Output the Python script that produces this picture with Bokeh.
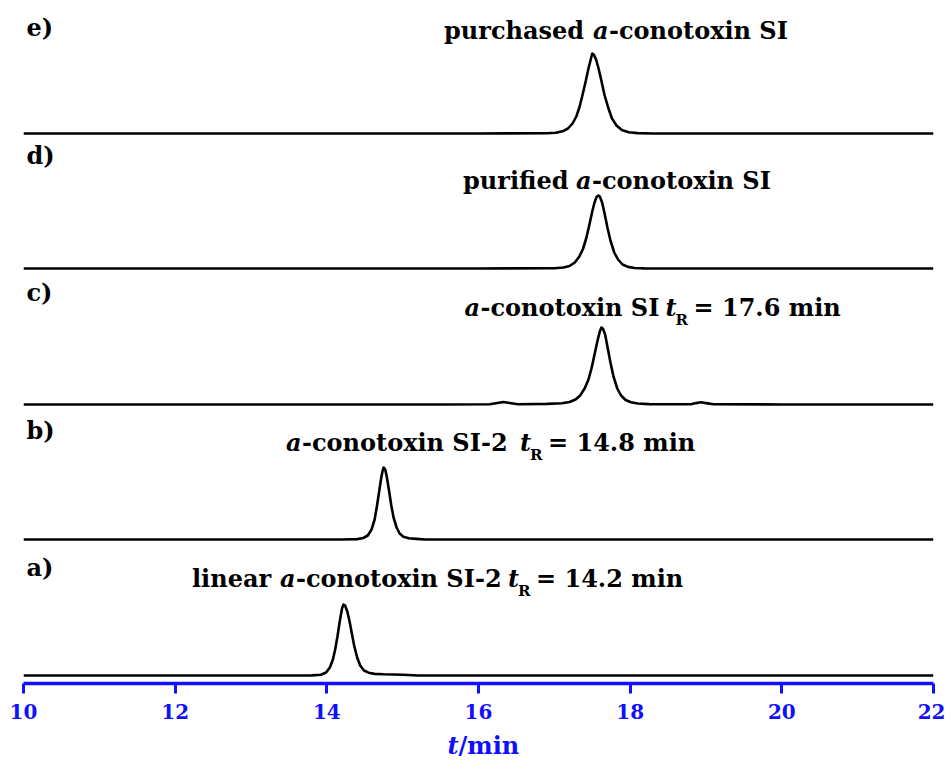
from bokeh.plotting import figure
from bokeh.models import Range1d, Label, FixedTicker
from bokeh.layouts import column
from bokeh.embed import file_html
from bokeh.resources import INLINE

# ---------------- data (retention time in min, detector response in arbitrary units) -------------
t_a = [10.00, 13.00, 13.80, 13.92, 13.99, 14.04, 14.08, 14.11, 14.14, 14.17, 14.20, 14.22, 14.24, 14.27,
       14.30, 14.33, 14.36, 14.40, 14.44, 14.49, 14.55, 14.63, 14.75, 15.00, 15.20, 22.00]
i_a = [0, 0, 0.1, 0.8, 3, 8, 16, 26, 39, 54, 67, 71, 70, 64, 54, 42, 30, 18, 10, 5, 2.8, 1.6, 1.2, 0.8, 0, 0]

t_b = [10.00, 13.00, 14.20, 14.40, 14.48, 14.54, 14.59, 14.63, 14.66, 14.69, 14.72, 14.74, 14.75, 14.77,
       14.79, 14.82, 14.85, 14.88, 14.92, 14.96, 15.01, 15.08, 15.18, 15.30, 17.00, 22.00]
i_b = [0, 0, 0, 0.4, 1.5, 4, 10, 20, 33, 48, 63, 70, 72, 70, 63, 49, 34, 22, 12, 6, 2.8, 1.2, 0.6, 0, 0, 0]

t_c = [10.00, 13.00, 15.50, 16.15, 16.25, 16.33, 16.41, 16.52, 16.90, 17.10, 17.20, 17.28, 17.34, 17.40,
       17.45, 17.49, 17.53, 17.57, 17.60, 17.62, 17.64, 17.67, 17.70, 17.74, 17.78, 17.83, 17.88, 17.94,
       18.01, 18.10, 18.25, 18.50, 18.80, 18.87, 18.93, 19.00, 19.10, 20.00, 22.00]
i_c = [0, 0, 0, 0.2, 1.5, 2.5, 1.5, 0.3, 0.6, 1.2, 2.5, 5, 9, 16, 25, 36, 50, 64, 73, 77, 76, 70, 58, 42,
       28, 16, 9, 4.5, 2.2, 1.0, 0.4, 0.2, 0.3, 1.4, 2.2, 1.4, 0.3, 0, 0]

t_d = [10.00, 13.00, 16.00, 17.00, 17.12, 17.20, 17.27, 17.33, 17.38, 17.42, 17.46, 17.50, 17.53, 17.56,
       17.58, 17.60, 17.63, 17.66, 17.70, 17.74, 17.79, 17.84, 17.90, 17.97, 18.06, 18.18, 18.40, 20.00, 22.00]
i_d = [0, 0, 0, 0.3, 1, 2.5, 6, 12, 20, 30, 43, 57, 66, 72, 73, 72, 66, 56, 41, 28, 16, 9, 4, 1.6, 0.5,
       0.1, 0, 0, 0]

t_e = [10.00, 13.00, 16.00, 16.90, 17.02, 17.11, 17.18, 17.24, 17.29, 17.33, 17.37, 17.41, 17.45, 17.48,
       17.50, 17.52, 17.55, 17.58, 17.62, 17.66, 17.71, 17.76, 17.82, 17.89, 17.98, 18.10, 18.30, 20.00, 22.00]
i_e = [0, 0, 0, 0.2, 0.8, 2.2, 5, 10, 17, 26, 38, 51, 65, 74, 80, 79, 74, 66, 53, 39, 26, 15, 8, 3.5,
       1.3, 0.4, 0, 0, 0]

trace_names = ["a)", "b)", "c)", "d)", "e)"]
x_ticks = [10, 12, 14, 16, 18, 20, 22]

# ---------------- layout constants ----------------
FONT = "DejaVu Serif"
BLUE = "#1010ff"
W = 945
LEFT, RIGHT = 23, 12
TOP, FRAME_H = 8, 675
H_MAIN = 726
H_TITLE = 42
FRAME_W = W - LEFT - RIGHT
offsets = [8, 144, 279, 415, 550]      # vertical stacking of the chromatograms

p = figure(width=W, height=H_MAIN, output_backend="svg", toolbar_location=None,
           x_range=Range1d(10, 22), y_range=Range1d(0, FRAME_H),
           y_axis_location=None, x_axis_location="below",
           min_border_left=LEFT, min_border_right=RIGHT,
           min_border_top=TOP, min_border_bottom=H_MAIN - TOP - FRAME_H)
p.outline_line_color = None
p.grid.visible = False

traces = [(t_a, i_a), (t_b, i_b), (t_c, i_c), (t_d, i_d), (t_e, i_e)]
for (tt, ii), off in zip(traces, offsets):
    p.line(tt, [off + v for v in ii], line_color="black", line_width=2.6, line_join="round")

ax = p.xaxis[0]
ax.ticker = FixedTicker(ticks=x_ticks)
ax.minor_tick_line_color = None
ax.major_tick_in = 0
ax.major_tick_out = 10
ax.major_tick_line_width = 3
ax.major_tick_line_color = BLUE
ax.axis_line_color = BLUE
ax.axis_line_width = 3.5
ax.major_label_text_color = BLUE
ax.major_label_text_font = FONT
ax.major_label_text_font_style = "bold"
ax.major_label_text_font_size = "20px"
ax.major_label_standoff = 10

XPX = FRAME_W / 12.0
SHIFT = 10   # rendered text sits this much lower than the nominal baseline
def px2t(px):
    return 10 + (px - LEFT) / XPX
def py2y(py):
    return (TOP + FRAME_H) - (py - SHIFT)

def seg(fig, text, px, y, size=24, italic=False, color="black"):
    fig.add_layout(Label(x=px2t(px), y=y, text=text, text_font=FONT,
                         text_font_style="bold italic" if italic else "bold",
                         text_font_size=f"{size}px", text_color=color,
                         text_align="left", text_baseline="alphabetic"))

# panel letters
for name, by in zip(trace_names, [577, 440, 302, 165, 37]):
    seg(p, name, 26, py2y(by), size=24)

# composite peak labels: (text, italic, subscript, approx width in px)
W_A, W_T, W_R = 16, 10, 18
def composite(parts, center, base):
    total = sum(w for _, _, _, w in parts)
    x = center - total / 2.0
    for text, ital, sub, w in parts:
        if sub:
            seg(p, text, x, py2y(base + 12), size=15)
        else:
            seg(p, text, x, py2y(base), italic=ital)
        x += w

composite([("purchased", False, False, 149), ("a", True, False, W_A),
           ("-conotoxin SI", False, False, 178)], 615, 40)
composite([("purified", False, False, 113), ("a", True, False, W_A),
           ("-conotoxin SI", False, False, 178)], 616, 190)
composite([("a", True, False, W_A), ("-conotoxin SI", False, False, 185),
           ("t", True, False, W_T), ("R", False, True, W_R), ("= 17.6 min", False, False, 147)], 652, 317)
composite([("a", True, False, W_A), ("-conotoxin SI-2", False, False, 218),
           ("t", True, False, W_T), ("R", False, True, W_R), ("= 14.8 min", False, False, 147)], 490, 452)
composite([("linear", False, False, 88), ("a", True, False, W_A), ("-conotoxin SI-2", False, False, 212),
           ("t", True, False, W_T), ("R", False, True, W_R), ("= 14.2 min", False, False, 147)], 437, 588)

# x axis title in its own strip below the axis
p2 = figure(width=W, height=H_TITLE, output_backend="svg", toolbar_location=None,
            x_range=Range1d(10, 22), y_range=Range1d(0, H_TITLE),
            x_axis_location=None, y_axis_location=None,
            min_border_left=LEFT, min_border_right=RIGHT, min_border_top=0, min_border_bottom=0)
p2.outline_line_color = None
p2.grid.visible = False
title_base = 745 - H_MAIN            # nominal baseline measured from the top of the strip
title_y = H_TITLE - title_base
seg(p2, "t", 447, title_y, size=24, italic=True, color=BLUE)
seg(p2, "/min", 458, title_y, size=24, color=BLUE)

layout = column(p, p2, spacing=0)
open("out.html", "w").write(file_html(layout, INLINE))
